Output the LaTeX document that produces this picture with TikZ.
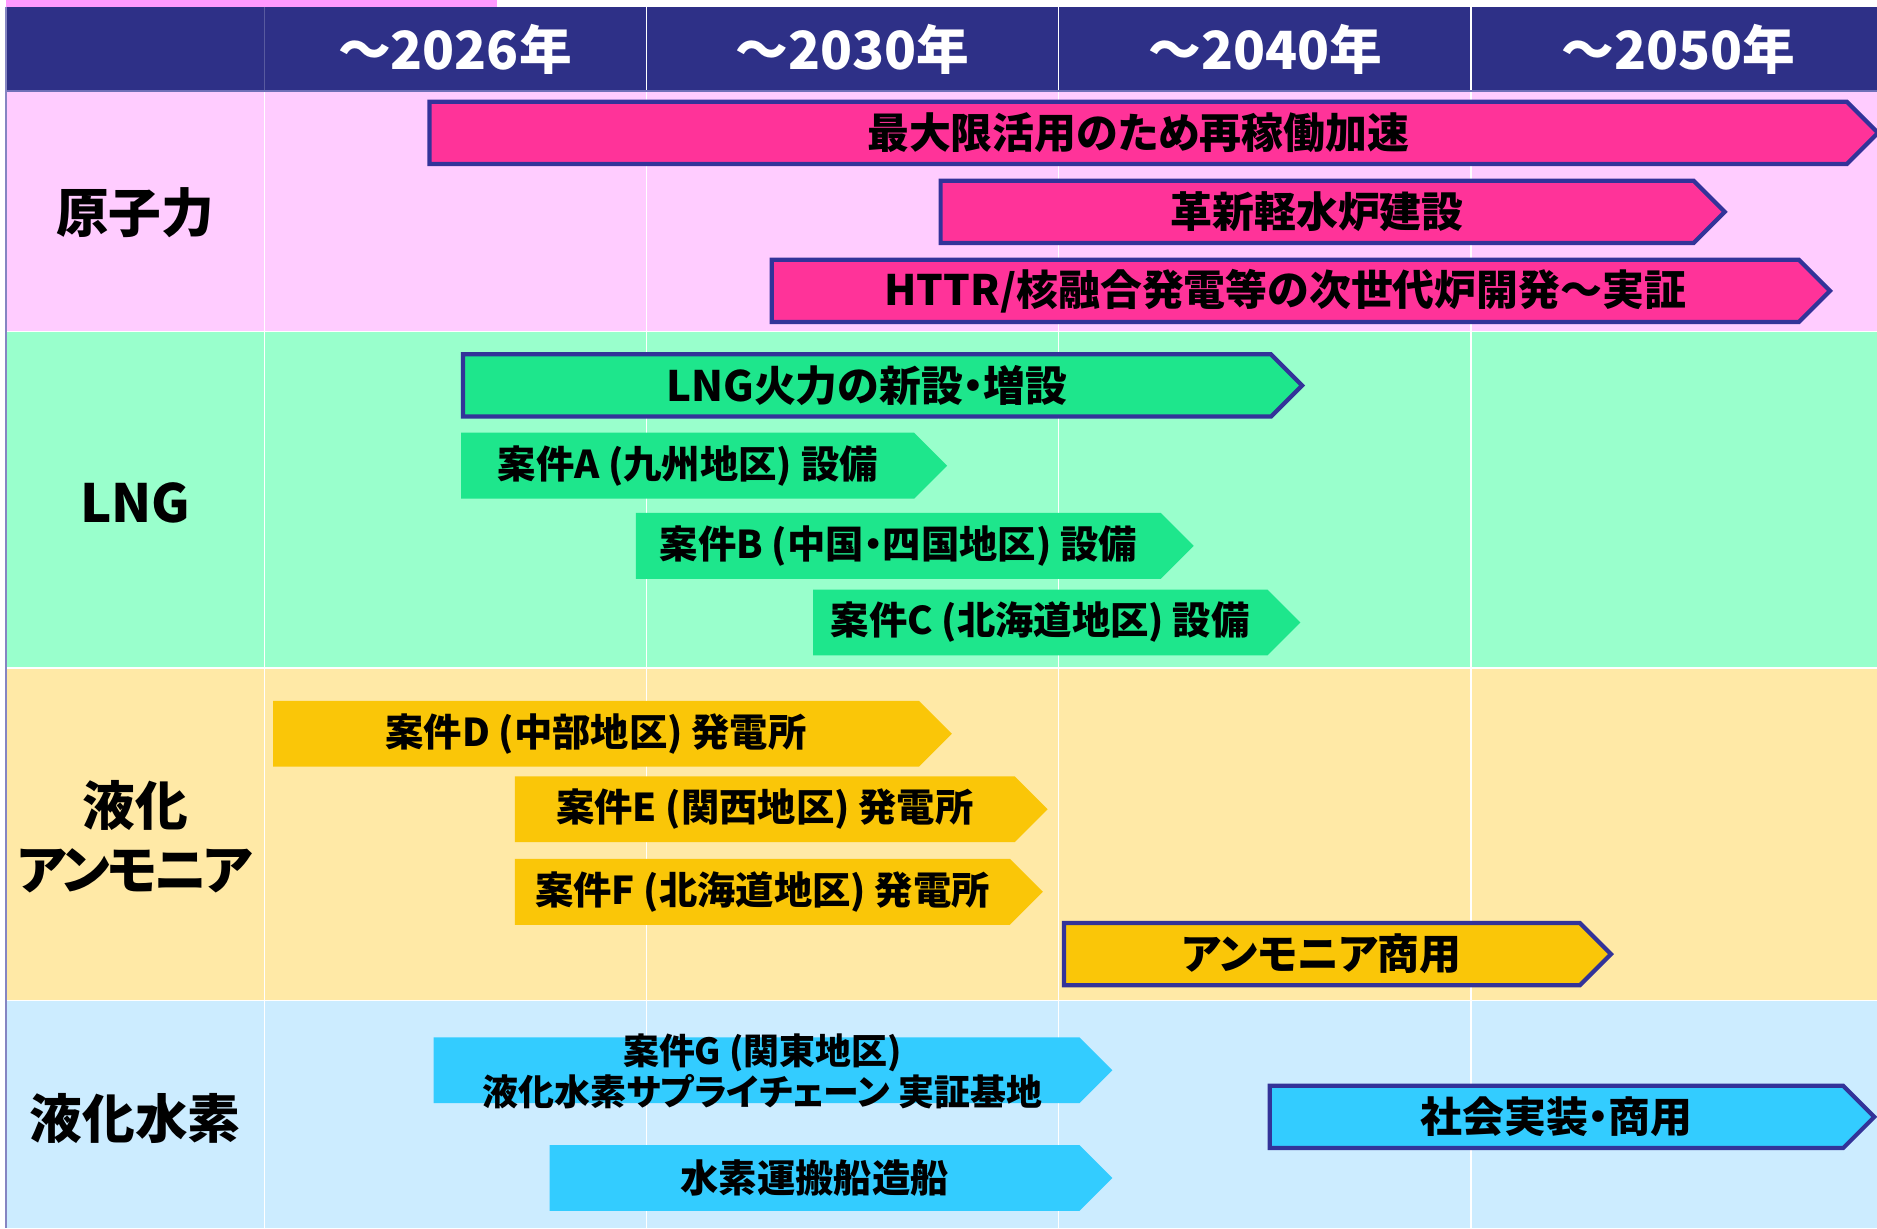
\documentclass[tikz,border=0pt]{standalone}
\usepackage{fontspec}
\setmainfont{Noto Sans CJK JP}[RawFeature=+palt]
\usepackage{tikz}
\usetikzlibrary{shapes.symbols}
\definecolor{headnavy}{RGB}{46,48,135}
\definecolor{barline}{RGB}{51,51,153}
\definecolor{topstrip}{RGB}{255,153,255}
\definecolor{pinkrow}{RGB}{255,204,255}
\definecolor{pinkbar}{RGB}{255,51,153}
\definecolor{greenrow}{RGB}{153,255,204}
\definecolor{greenbar}{RGB}{30,230,140}
\definecolor{yellowrow}{RGB}{255,233,166}
\definecolor{yellowbar}{RGB}{250,198,8}
\definecolor{bluerow}{RGB}{204,236,255}
\definecolor{bluebar}{RGB}{51,204,255}

\begin{document}
\begin{tikzpicture}[
  x=1pt,y=-1pt,
  bar/.style={signal,signal to=east,signal pointer angle=90,anchor=west,
              inner sep=0pt,minimum height=55pt,
              font=\fontsize{32}{38}\selectfont\bfseries},
  framed/.style={draw=barline,line width=3.5pt,minimum height=52pt,
                 font=\fontsize{35}{40}\selectfont\bfseries},
  rowlabel/.style={font=\fontsize{44}{53}\selectfont\bfseries,align=center},
  yearlabel/.style={text=white,font=\fontsize{44}{50}\selectfont\bfseries},
  gridline/.style={white,line width=1.2pt}
]
\useasboundingbox (0,0) rectangle (1568,1026);
% background rows
\fill[topstrip] (5,0) rectangle (415,6);
\fill[headnavy] (5,6) rectangle (1568,76);
\fill[pinkrow] (5,76) rectangle (1568,277);
\fill[greenrow] (5,277) rectangle (1568,558);
\fill[yellowrow] (5,558) rectangle (1568,836);
\fill[bluerow] (5,836) rectangle (1568,1026);
\foreach \yy in {277,558,836} \draw[gridline] (5,\yy) -- (1568,\yy);
\foreach \xx in {540,884,1229} \draw[gridline] (\xx,6) -- (\xx,1026);
\draw[gridline] (221,76) -- (221,1026);
\draw[headnavy!80!white,line width=1pt] (221,6) -- (221,76);
\draw[barline!70!white,line width=1.5pt] (5,76) -- (1568,76);
\draw[barline!60!white,line width=1.5pt] (5,6) -- (5,1026);
% header
\node[yearlabel] (y2026) at (380,41) {～2026年};
\node[yearlabel] (y2030) at (712,41) {～2030年};
\node[yearlabel] (y2040) at (1057,41) {～2040年};
\node[yearlabel] (y2050) at (1402,41) {～2050年};
% row labels
\node[rowlabel] (nuclear) at (113,178) {原子力};
\node[rowlabel] (lng) at (113,420) {LNG};
\node[rowlabel] (ammonia) at (113,699) {液化\\{\addfontfeatures{LetterSpace=-5}アンモニア}};
\node[rowlabel] (hydrogen) at (113,934) {液化水素};
% nuclear
\node[bar,framed,fill=pinkbar,minimum width=1210pt] (restart) at (357,111) {最大限活用のため再稼働加速};
\node[bar,framed,fill=pinkbar,minimum width=655pt] (lwr) at (784,177) {革新軽水炉建設};
\node[bar,framed,fill=pinkbar,minimum width=884pt] (httr) at (643,243) {HTTR/核融合発電等の次世代炉開発～実証};
% LNG
\node[bar,framed,fill=greenbar,minimum width=701pt] (lngnew) at (385,322) {LNG火力の新設・増設};
\node[bar,fill=greenbar,minimum width=406pt] (casea) at (385,389) {案件A (九州地区) 設備};
\node[bar,fill=greenbar,minimum width=466pt] (caseb) at (531,456) {案件B (中国・四国地区) 設備};
\node[bar,fill=greenbar,minimum width=407pt] (casec) at (679,520) {案件C (北海道地区) 設備};
% ammonia
\node[bar,fill=yellowbar,minimum width=567pt] (cased) at (228,613) {案件D (中部地区) 発電所};
\node[bar,fill=yellowbar,minimum width=445pt] (casee) at (430,676) {案件E (関西地区) 発電所};
\node[bar,fill=yellowbar,minimum width=441pt] (casef) at (430,745) {案件F (北海道地区) 発電所};
\node[bar,framed,fill=yellowbar,minimum width=457pt] (nh3use) at (887,797) {アンモニア商用};
% hydrogen
\node[bar,fill=bluebar,minimum width=567pt] (caseg) at (362,894) {};
\node[font=\fontsize{30}{35}\selectfont\bfseries,align=center] (casegtext) at (637,895)
  {案件G (関東地区)\\液化水素サプライチェーン 実証基地};
\node[bar,fill=bluebar,minimum width=470pt] (ship) at (459,984) {水素運搬船造船};
\node[bar,framed,fill=bluebar,minimum width=505pt] (h2use) at (1059,933) {社会実装・商用};
\end{tikzpicture}
\end{document}
